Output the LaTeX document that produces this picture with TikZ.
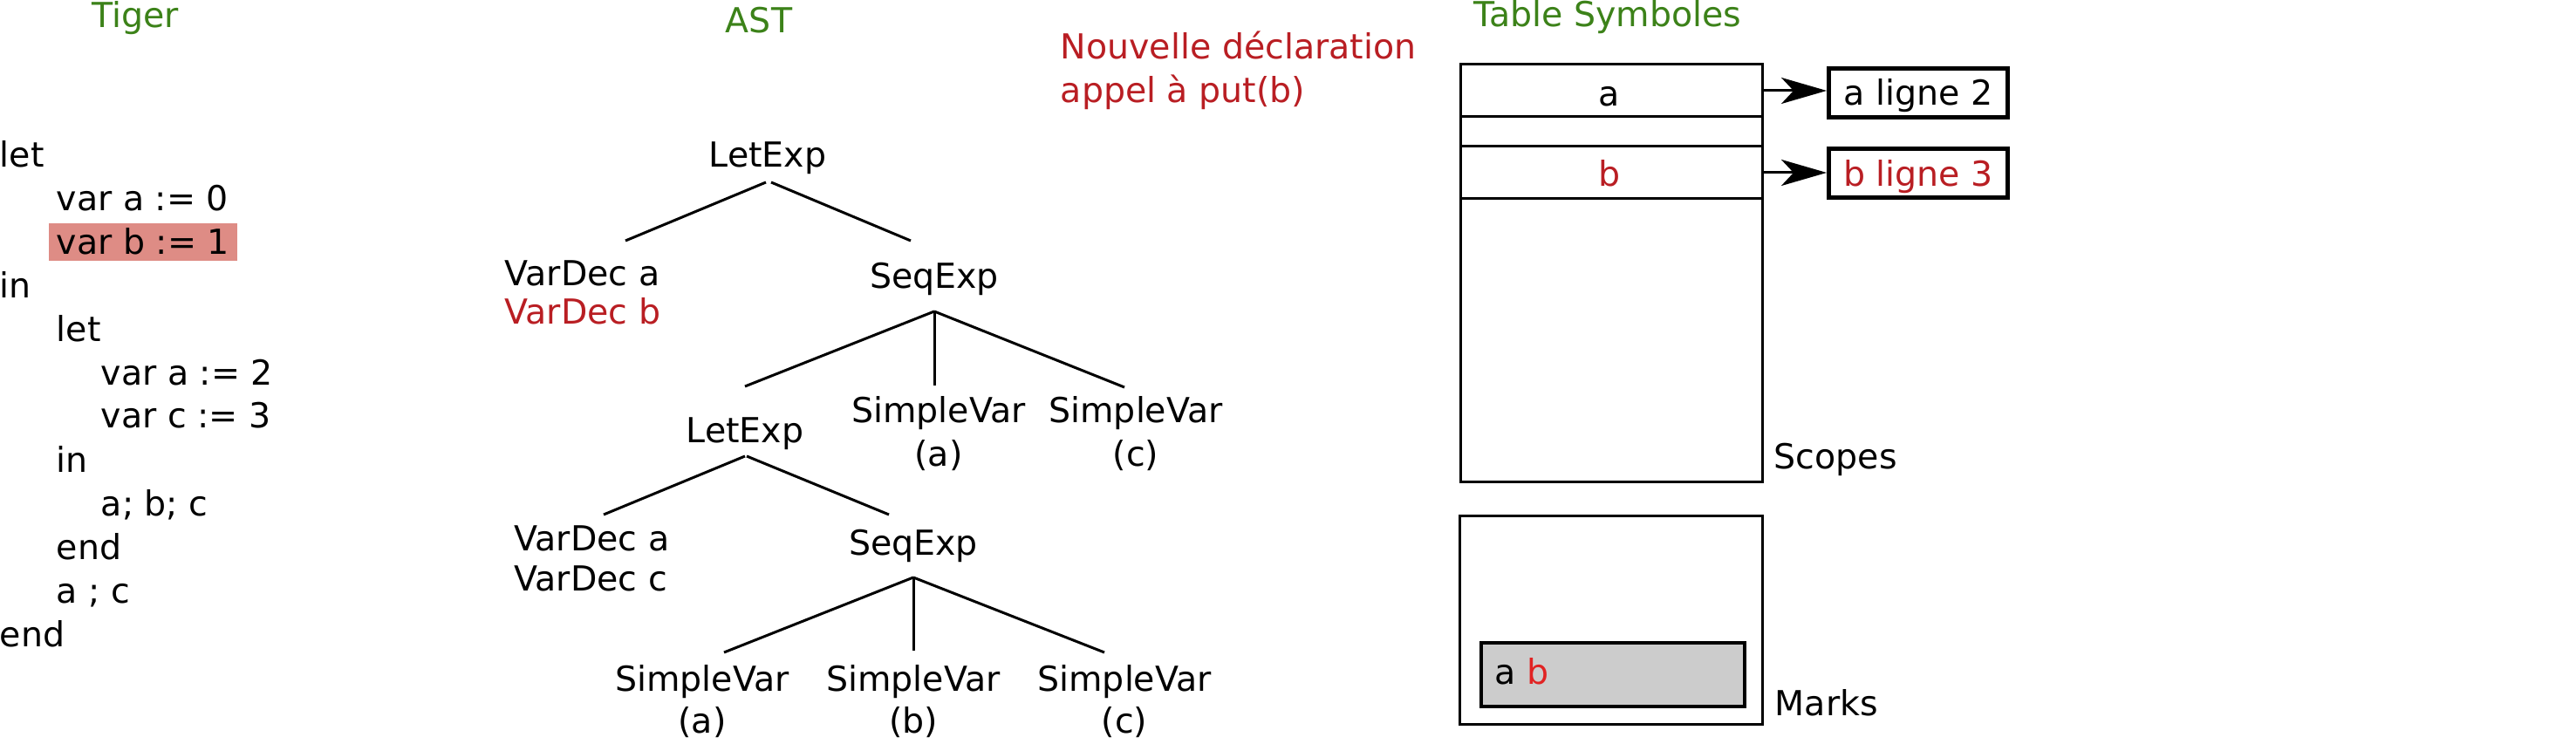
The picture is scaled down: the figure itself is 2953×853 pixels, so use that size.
\documentclass[tikz,border=0pt]{standalone}
\usepackage{fontspec}
\setmainfont{DejaVu Sans}
\usetikzlibrary{arrows.meta,calc}
\definecolor{ttlgreen}{RGB}{60,130,25}
\definecolor{decred}{RGB}{185,30,35}
\definecolor{markred}{RGB}{225,35,35}
\definecolor{hilite}{RGB}{222,140,133}
\definecolor{markgray}{RGB}{204,204,204}
\newcommand\dfont{\fontsize{9.875pt}{12pt}\selectfont}
\begin{document}
\begin{tikzpicture}[x=0.25pt,y=-0.25pt,
  txt/.style={inner sep=0pt, font=\dfont, anchor=base},
  lft/.style={txt, anchor=base west},
  title/.style={txt, text=ttlgreen},
  edge/.style={line width=0.75pt},
  cell/.style={draw, line width=0.75pt, minimum width=86.5pt, inner sep=0pt},
  refbox/.style={draw, line width=1.25pt, minimum width=51.25pt, minimum height=14pt, inner sep=0pt, font=\dfont, text height=8.5pt, text depth=1.25pt},
  ptr/.style={line width=0.75pt, -{Stealth[length=13pt,width=7.5pt,inset=3.5pt]}},
]
\useasboundingbox (0,0) rectangle (2953,853);

% titles
\node[title] (tiger) at (155,32) {Tiger};
\node[title] (ast) at (870,38) {AST};
\node[title] (tsym) at (1843,31) {Table Symboles};
\node[lft, text=decred] (n1) at (1215,68) {Nouvelle déclaration};
\node[lft, text=decred] (n2) at (1215,118) {appel à put(b)};

% Tiger code
\node[lft] (l1) at (-1,192) {let};
\node[lft] (l2) at (64,242) {var a := 0};
\node[lft, fill=hilite, inner xsep=2.25pt, text height=9pt, text depth=1.75pt] (l3) at (55,292) {var b := 1};
\node[lft] (l4) at (-1,342) {in};
\node[lft] (l5) at (64,392) {let};
\node[lft] (l6) at (115,442) {var a := 2};
\node[lft] (l7) at (115,491) {var c := 3};
\node[lft] (l8) at (64,542) {in};
\node[lft] (l9) at (115,592) {a; b; c};
\node[lft] (l10) at (64,642) {end};
\node[lft] (l11) at (64,692) {a ; c};
\node[lft] (l12) at (-1,742) {end};

% AST
\node[txt] (root) at (880,192) {LetExp};
\node[lft] (vda) at (578,328) {VarDec a};
\node[lft, text=decred] (vdb) at (578,372) {VarDec b};
\node[txt] (seq1) at (1071,331) {SeqExp};
\node[txt] (let2) at (854,508) {LetExp};
\node[txt] (sva) at (1076,485) {SimpleVar};
\node[txt] (sva2) at (1076,535) {(a)};
\node[txt] (svc) at (1302,485) {SimpleVar};
\node[txt] (svc2) at (1302,535) {(c)};
\node[lft] (vda2) at (589,632) {VarDec a};
\node[lft] (vdc2) at (589,678) {VarDec c};
\node[txt] (seq2) at (1047,637) {SeqExp};
\node[txt] (bsa) at (805,792) {SimpleVar};
\node[txt] (bsa2) at (805,840) {(a)};
\node[txt] (bsb) at (1047,792) {SimpleVar};
\node[txt] (bsb2) at (1047,840) {(b)};
\node[txt] (bsc) at (1289,792) {SimpleVar};
\node[txt] (bsc2) at (1289,840) {(c)};

\draw[edge] ($(root.base)+(-2,17)$) -- ($(vda.base west)+(139,-52)$);
\draw[edge] ($(root.base)+(4,17)$) -- ($(seq1.base)+(-27,-55)$);
\draw[edge] ($(seq1.base)+(0,26)$) -- ($(let2.base)+(0,-65)$);
\draw[edge] ($(seq1.base)+(0,26)$) -- ($(sva.base)+(-5,-43)$);
\draw[edge] ($(seq1.base)+(0,26)$) -- ($(svc.base)+(-13,-41)$);
\draw[edge] ($(let2.base)+(0,15)$) -- ($(vda2.base west)+(103,-42)$);
\draw[edge] ($(let2.base)+(2,15)$) -- ($(seq2.base)+(-28,-47)$);
\draw[edge] ($(seq2.base)+(0,25)$) -- ($(bsa.base)+(25,-44)$);
\draw[edge] ($(seq2.base)+(0,25)$) -- ($(bsb.base)+(0,-46)$);
\draw[edge] ($(seq2.base)+(0,25)$) -- ($(bsc.base)+(-23,-44)$);

% symbol table
\node[cell, minimum height=119.75pt] (scopes) at (1847,313.5) {};
\node[cell, minimum height=15pt] (ca) at (1847,104) {};
\node[cell, minimum height=8.5pt] (ce) at (1847,151) {};
\node[cell, minimum height=15pt] (cb) at (1847,198) {};
\node[txt] (la) at (1845,122) {a};
\node[txt, text=decred] (lb) at (1845,214) {b};
\node[refbox] (ra) at (2199,106.5) {a ligne 2};
\node[refbox, text=decred] (rb) at (2199,199) {b ligne 3};
\draw[ptr] (ca.east) -- (ca.east -| ra.west);
\draw[ptr] (cb.east) -- (cb.east -| rb.west);
\node[lft] (scl) at (2033,538) {Scopes};

% marks
\node[cell, minimum width=86.75pt, minimum height=59.5pt] (marks) at (1846.5,711) {};
\node[draw, line width=1.1pt, fill=markgray, minimum width=75.5pt, minimum height=18.25pt, inner sep=0pt] (mk) at (1849,773.5) {};
\node[lft] (mkt) at (1713,785) {a \textcolor{markred}{b}};
\node[lft] (mkl) at (2034,820) {Marks};
\end{tikzpicture}
\end{document}
